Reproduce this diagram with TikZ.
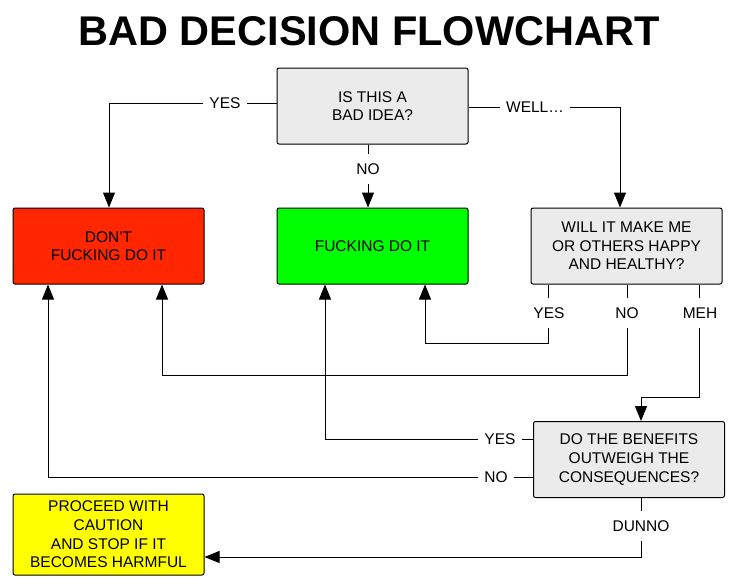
\documentclass[tikz,border=0pt]{standalone}
\usepackage{fontspec}
\setmainfont{Liberation Sans}
\usetikzlibrary{arrows.meta}
\definecolor{qgray}{RGB}{235,235,235}
\definecolor{dred}{RGB}{255,38,0}
\definecolor{dgreen}{RGB}{0,255,0}
\definecolor{dyellow}{RGB}{255,255,0}
\tikzset{
  box/.style={draw=black, line width=1pt, rounded corners=2pt, minimum width=191pt, minimum height=76pt,
    align=center, inner sep=0pt, font=\fontsize{15.5}{18.6}\selectfont},
  conn/.style={line width=1pt, -{Triangle[length=15pt,width=12pt]}},
  lbl/.style={fill=white, inner xsep=6pt, inner ysep=10pt, font=\fontsize{15.5}{18.6}\selectfont}
}
\begin{document}
\begin{tikzpicture}[x=1pt,y=-1pt]
\useasboundingbox (0,0) rectangle (736,587);
\fill[white] (0,0) rectangle (736,587);
\node[inner sep=0pt] (title) at (369,31) {\fontsize{41.5}{48}\selectfont\bfseries BAD DECISION FLOWCHART};

\node[box, fill=qgray] (b1) at (372.5,106) {IS THIS A\\BAD IDEA?};
\node[box, fill=dred] (red) at (108.5,246) {DON’T\\FUCKING DO IT};
\node[box, fill=dgreen] (green) at (372.5,246) {FUCKING DO IT};
\node[box, fill=qgray] (b3) at (626.5,246) {WILL IT MAKE ME\\OR OTHERS HAPPY\\AND HEALTHY?};
\node[box, fill=qgray] (b4) at (629,459.5) {DO THE BENEFITS\\OUTWEIGH THE\\CONSEQUENCES?};
\node[box, fill=dyellow, minimum height=81pt] (yel) at (108.5,534.5) {PROCEED WITH\\CAUTION\\AND STOP IF IT\\BECOMES HARMFUL};

% connectors
\draw[conn] ([yshift=3pt]b1.west) -| ([xshift=0.5pt]red.north);
\draw[conn] ([xshift=-4.5pt]b1.south) -- ([xshift=-4.5pt]green.north);
\draw[conn] ([yshift=-1pt]b1.east) -| ([xshift=-6.5pt]b3.north);
\coordinate (c3y) at (548,343);
\draw[conn] ([xshift=-78.5pt]b3.south) |- (c3y) -| ([xshift=52.5pt]green.south);
\coordinate (c3n) at (627,375);
\draw[conn] ([xshift=0.5pt]b3.south) |- (c3n) -| ([xshift=53.5pt]red.south);
\coordinate (c3m) at (699,397);
\draw[conn] ([xshift=72.5pt]b3.south) |- (c3m) -| ([xshift=12pt]b4.north);
\draw[conn] ([yshift=20.5pt]b4.west) -| ([xshift=-47.5pt]green.south);
\draw[conn] ([yshift=-17.5pt]b4.west) -| ([xshift=-60.5pt]red.south);
\coordinate (c4d) at (641,557);
\draw[conn] ([xshift=12pt]b4.south) -- (c4d) -- (yel.east |- c4d);

% labels
\node[lbl] (l1) at (225,103) {YES};
\node[lbl] (l2) at (368,169) {NO};
\node[lbl] (l3) at (535,107) {WELL…};
\node[lbl] (l4) at (549,313) {YES};
\node[lbl] (l5) at (627,313) {NO};
\node[lbl] (l6) at (700,313) {MEH};
\node[lbl] (l7) at (500,439) {YES};
\node[lbl] (l8) at (496,477) {NO};
\node[lbl] (l9) at (641,526) {DUNNO};
\end{tikzpicture}
\end{document}
